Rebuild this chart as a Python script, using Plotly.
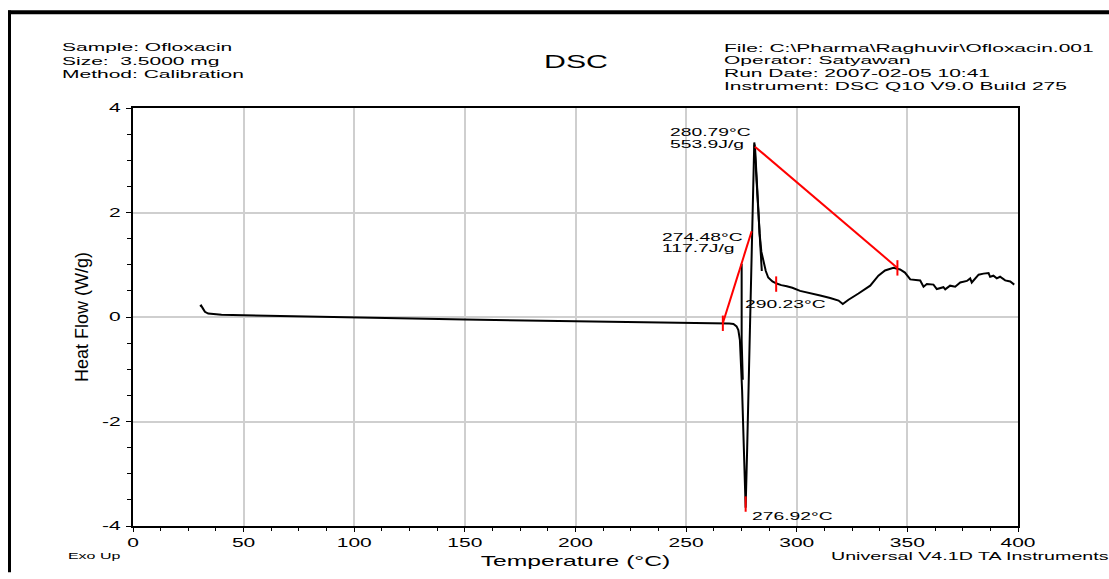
import plotly.graph_objects as go

# ---------------- data ----------------
temp_c = [30.3, 30.8, 31.5, 32.5, 34.0, 36.0, 40.0, 50.0, 72.0, 100.0, 150.0, 200.0,
          250.0, 262.0, 266.8, 269.5, 271.4, 272.8, 273.6, 274.3, 275.3, 276.2, 276.9,
          277.6, 278.4, 279.3, 280.0, 280.5, 280.8, 281.2, 281.6, 282.3, 283.2, 284.0,
          284.9, 286.0, 287.1, 289.0, 290.9, 293.0, 295.5, 298.0, 301.5, 306.0, 310.6,
          315.1, 318.9, 320.8, 323.4, 327.9, 333.2, 336.9, 339.9, 343.7, 346.7, 348.9,
          351.3, 355.8, 357.3, 358.8, 361.8, 363.3, 366.3, 367.1, 369.3, 371.6, 373.9,
          376.9, 378.4, 379.1, 382.2, 384.4, 386.7, 387.4, 388.9, 390.4, 391.9, 394.2,
          396.5, 398.3]
heat_flow = [0.20, 0.22, 0.17, 0.10, 0.065, 0.055, 0.045, 0.035, 0.014, -0.014, -0.05, -0.08,
             -0.105, -0.115, -0.12, -0.125, -0.135, -0.18, -0.25, -0.44, -1.4, -2.7, -3.65,
             -2.5, -1.0, 0.4, 1.8, 2.8, 3.34, 3.2, 2.85, 2.2, 1.6, 1.25,
             1.07, 0.88, 0.755, 0.68, 0.64, 0.61, 0.59, 0.56, 0.50, 0.45, 0.41,
             0.365, 0.315, 0.25, 0.33, 0.45, 0.60, 0.79, 0.89, 0.94, 0.91, 0.85,
             0.72, 0.70, 0.58, 0.63, 0.62, 0.535, 0.57, 0.53, 0.60, 0.58, 0.66,
             0.69, 0.74, 0.66, 0.81, 0.83, 0.84, 0.77, 0.79, 0.74, 0.77, 0.70,
             0.68, 0.62]

# extra strokes of the raw signal around the transition
extra_temp = [280.9, 284.2, None, 275.1, 275.1, 275.6]
extra_hf = [3.30, 0.88, None, 1.02, -0.45, -1.2]

# red analysis (integration) lines
red_temp = [266.6, 275.0, 279.6, None, 281.1, 345.5]
red_hf = [-0.12, 1.02, 1.64, None, 3.26, 0.94]

# red limit markers
mark_temp = [266.6, 290.7, 345.5, 276.9]
mark_hf = [-0.12, 0.63, 0.94, -3.58]

# result labels: (text, temperature, heat flow) of the label's left edge / centre
result_labels = [
    ("280.79°C", 241.8, 3.545),
    ("553.9J/g", 241.8, 3.318),
    ("274.48°C", 238.0, 1.531),
    ("117.7J/g", 238.3, 1.323),
    ("290.23°C", 275.9, 0.246),
    ("276.92°C", 279.0, -3.80),
]

x_tick_vals = [0, 50, 100, 150, 200, 250, 300, 350, 400]
x_tick_text = ["0", "50", "100", "150", "200", "250", "300", "350", "400"]
y_tick_vals = [-4, -2, 0, 2, 4]
y_tick_text = ["-4", "-2", "0", "2", "4"]

header_left = ["Sample: Ofloxacin", "Size:\u00a0 3.5000 mg", "Method: Calibration"]
header_right = ["File: C:\\Pharma\\Raghuvir\\Ofloxacin.001", "Operator: Satyawan",
                "Run Date: 2007-02-05 10:41", "Instrument: DSC Q10 V9.0 Build 275"]

# ---------------- figure ----------------
W, H = 1109, 579
ML, MR, MT, MB = 133, 91, 108, 47
PW, PH = W - ML - MR, H - MT - MB
FONT = "Liberation Sans, Arial, sans-serif"
HEAD_SIZE = 11


def xp(px):
    return (px - ML) / PW


def yp(py):
    return (H - MB - py) / PH


fig = go.Figure()
fig.add_trace(go.Scatter(x=temp_c, y=heat_flow, mode="lines",
                         line=dict(color="black", width=2), showlegend=False))
fig.add_trace(go.Scatter(x=extra_temp, y=extra_hf, mode="lines",
                         line=dict(color="black", width=2), showlegend=False))
fig.add_trace(go.Scatter(x=red_temp, y=red_hf, mode="lines",
                         line=dict(color="#ff0000", width=2), showlegend=False))
fig.add_trace(go.Scatter(x=mark_temp, y=mark_hf, mode="markers",
                         marker=dict(symbol="line-ns-open", size=11, color="#ff0000",
                                     line=dict(color="#ff0000", width=2)),
                         showlegend=False))

ann = []
for txt, t, h in result_labels:
    ann.append(dict(text=txt, x=t, y=h, xref="x", yref="y", xanchor="left",
                    yanchor="middle", align="left", showarrow=False,
                    font=dict(family=FONT, size=11.5, color="black")))

for txt, py in zip(header_left, [46.0, 60.0, 74.0]):
    ann.append(dict(text=txt, x=xp(60), y=yp(py), xref="paper", yref="paper",
                    xanchor="left", yanchor="middle", align="left", showarrow=False,
                    font=dict(family=FONT, size=HEAD_SIZE, color="black")))
for txt, py in zip(header_right, [46.8, 59.6, 72.4, 85.2]):
    ann.append(dict(text=txt, x=xp(722), y=yp(py), xref="paper", yref="paper",
                    xanchor="left", yanchor="middle", align="left", showarrow=False,
                    font=dict(family=FONT, size=HEAD_SIZE, color="black")))
ann.append(dict(text="DSC", x=xp(576), y=yp(61), xref="paper", yref="paper",
                xanchor="center", yanchor="middle", align="center", showarrow=False,
                font=dict(family=FONT, size=18, color="black")))
ann.append(dict(text="Exo Up", x=xp(66), y=yp(562), xref="paper", yref="paper",
                xanchor="left", yanchor="middle", align="left", showarrow=False,
                font=dict(family=FONT, size=9.5, color="black")))
ann.append(dict(text="Universal V4.1D TA Instruments", x=xp(829), y=yp(562),
                xref="paper", yref="paper", xanchor="left", yanchor="middle",
                align="left", showarrow=False,
                font=dict(family=FONT, size=11.7, color="black")))

shapes = [
    dict(type="line", xref="paper", yref="paper", x0=xp(9.5), x1=xp(9.5),
         y0=yp(H), y1=yp(9), line=dict(color="black", width=3)),
    dict(type="line", xref="paper", yref="paper", x0=xp(8), x1=xp(W),
         y0=yp(11), y1=yp(11), line=dict(color="black", width=4)),
]

tickfont = dict(family=FONT, size=12.5, color="black")
fig.update_layout(
    width=W, height=H,
    margin=dict(l=ML, r=MR, t=MT, b=MB, pad=0),
    paper_bgcolor="white", plot_bgcolor="white",
    annotations=ann, shapes=shapes, showlegend=False,
    xaxis=dict(range=[0, 400], tickmode="array", tickvals=x_tick_vals,
               ticktext=x_tick_text, showgrid=True, gridcolor="#cfcfcf",
               gridwidth=1.5, zeroline=False, showline=True, linecolor="black",
               linewidth=1.5, mirror=True, ticks="outside", ticklen=4, tickwidth=1,
               tickcolor="black", tickfont=tickfont,
               minor=dict(dtick=12.5, tick0=0, ticks="outside", ticklen=3,
                          tickcolor="black", showgrid=False),
               title=dict(text="Temperature (°C)", standoff=7,
                          font=dict(family=FONT, size=14.7, color="black"))),
    yaxis=dict(range=[-4, 4], tickmode="array", tickvals=y_tick_vals,
               ticktext=y_tick_text, showgrid=True, gridcolor="#cfcfcf",
               gridwidth=1.5, zeroline=False, showline=True, linecolor="black",
               linewidth=1.5, mirror=True, ticks="outside", ticklen=5, tickwidth=1,
               tickcolor="black", tickfont=tickfont, ticklabelstandoff=3,
               minor=dict(dtick=0.5, tick0=0, ticks="outside", ticklen=4,
                          tickcolor="black", showgrid=False),
               title=dict(text="Heat Flow (W/g)", standoff=16,
                          font=dict(family=FONT, size=18, color="black"))),
)

# The reference's lettering is stretched horizontally; widen the glyphs to match.
stretch_js = """
document.documentElement.style.overflow = 'hidden';
document.body.style.overflow = 'hidden';
document.body.style.margin = '0';
var gd = document.getElementById('{plot_id}');
var S = 1.68;
var HEAD_S = 1.68 * 12.5 / 11;
gd.querySelectorAll('text').forEach(function(t){
  if (t.classList.contains('ytitle')) return;
  var bb;
  try { bb = t.getBBox(); } catch (e) { return; }
  if (!bb || !bb.width) return;
  var fs = parseFloat(t.style.fontSize || window.getComputedStyle(t).fontSize);
  var s = (Math.abs(fs - 11) < 0.01) ? HEAD_S : S;
  var a = t.getAttribute('text-anchor') || 'start';
  var cx = a === 'middle' ? bb.x + bb.width / 2 : (a === 'end' ? bb.x + bb.width : bb.x);
  var tr = t.getAttribute('transform') || '';
  t.setAttribute('transform', tr + ' translate(' + cx + ',0) scale(' + s + ',1) translate(' + (-cx) + ',0)');
});
"""

fig.write_html("out.html", config={"displayModeBar": False}, post_script=stretch_js)
